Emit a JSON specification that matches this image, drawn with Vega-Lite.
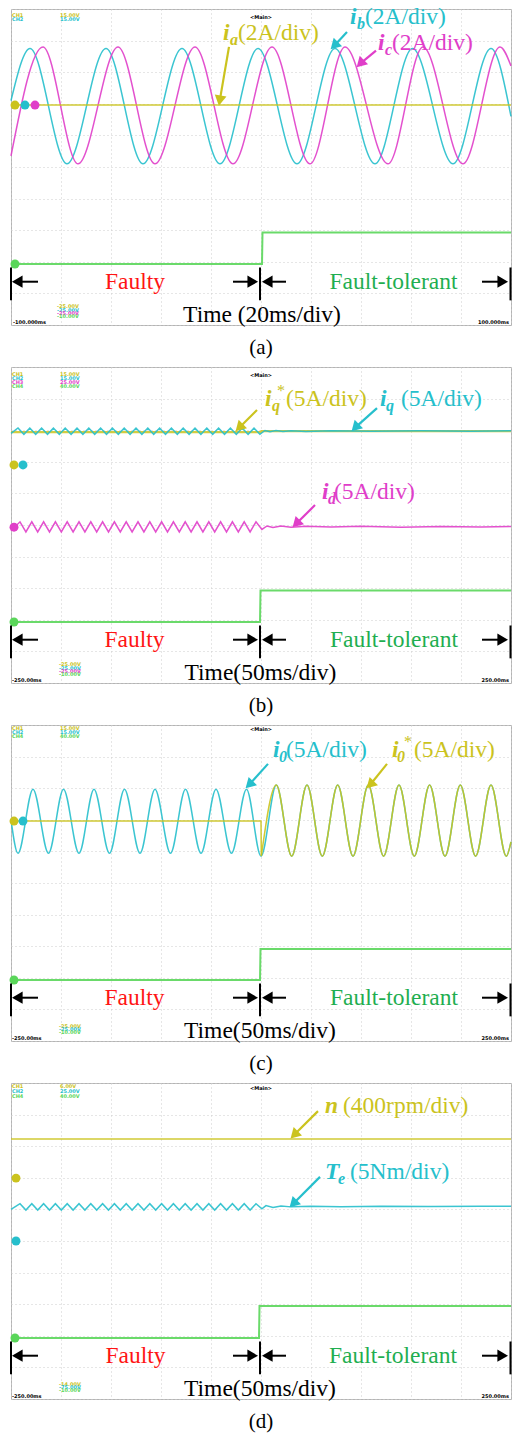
{
"$schema":"https://vega.github.io/schema/vega-lite/v6.json",
"padding":{"left":6,"top":4,"right":1,"bottom":0},
"background":"white",
"bounds":"flush",
"spacing":42,
"data":{"values":[
{"p":"a","k":"w","s":"ib","c":"cy","t":-100,"v":7.1},{"p":"a","k":"w","s":"ib","c":"cy","t":-92.4,"v":8.75},{"p":"a","k":"w","s":"ib","c":"cy","t":-77.6,"v":5.1},{"p":"a","k":"w","s":"ib","c":"cy","t":-62,"v":8.75},{"p":"a","k":"w","s":"ib","c":"cy","t":-47.2,"v":5.1},{"p":"a","k":"w","s":"ib","c":"cy","t":-31.6,"v":8.75},{"p":"a","k":"w","s":"ib","c":"cy","t":-16.4,"v":5.1},{"p":"a","k":"w","s":"ib","c":"cy","t":-1.2,"v":8.75},{"p":"a","k":"w","s":"ib","c":"cy","t":14.4,"v":5.1},{"p":"a","k":"w","s":"ib","c":"cy","t":29.6,"v":8.75},{"p":"a","k":"w","s":"ib","c":"cy","t":45.6,"v":5.1},{"p":"a","k":"w","s":"ib","c":"cy","t":60.6,"v":8.75},{"p":"a","k":"w","s":"ib","c":"cy","t":76.8,"v":5.1},{"p":"a","k":"w","s":"ib","c":"cy","t":92,"v":8.75},{"p":"a","k":"w","s":"ib","c":"cy","t":100,"v":6.6},
{"p":"a","k":"w","s":"ic","c":"m","t":-100,"v":5.35},{"p":"a","k":"w","s":"ic","c":"m","t":-87.2,"v":8.8},{"p":"a","k":"w","s":"ic","c":"m","t":-73.2,"v":5.1},{"p":"a","k":"w","s":"ic","c":"m","t":-57.2,"v":8.8},{"p":"a","k":"w","s":"ic","c":"m","t":-42.4,"v":5.1},{"p":"a","k":"w","s":"ic","c":"m","t":-26.4,"v":8.8},{"p":"a","k":"w","s":"ic","c":"m","t":-11.2,"v":5.1},{"p":"a","k":"w","s":"ic","c":"m","t":4.4,"v":8.8},{"p":"a","k":"w","s":"ic","c":"m","t":19.6,"v":5.1},{"p":"a","k":"w","s":"ic","c":"m","t":33.6,"v":8.8},{"p":"a","k":"w","s":"ic","c":"m","t":50.8,"v":5.1},{"p":"a","k":"w","s":"ic","c":"m","t":64.8,"v":8.8},{"p":"a","k":"w","s":"ic","c":"m","t":80.8,"v":5.1},{"p":"a","k":"w","s":"ic","c":"m","t":95.6,"v":8.8},{"p":"a","k":"w","s":"ic","c":"m","t":100,"v":8.2},
{"p":"a","k":"l","s":"ia","c":"y","t":-100,"v":6.96},{"p":"a","k":"l","s":"ia","c":"y","t":100,"v":6.96},
{"p":"a","k":"g","s":"ch4","c":"g","t":-100,"v":1.93},{"p":"a","k":"g","s":"ch4","c":"g","t":0.4,"v":1.93},{"p":"a","k":"g","s":"ch4","c":"g","t":0.6,"v":2.93},{"p":"a","k":"g","s":"ch4","c":"g","t":100,"v":2.93},
{"p":"a","k":"m","c":"y","t":-98.4,"v":6.96},{"p":"a","k":"m","c":"cy","t":-94.4,"v":6.96},{"p":"a","k":"m","c":"m","t":-90.4,"v":6.96},{"p":"a","k":"m","c":"g","t":-98.4,"v":1.93},
{"p":"a","k":"vb","c":"k","t":-100,"v":0.78,"v2":1.82},{"p":"a","k":"vb","c":"k","t":-0.4,"v":0.78,"v2":1.82},{"p":"a","k":"vb","c":"k","t":99.8,"v":0.78,"v2":1.82},
{"p":"a","k":"bs","c":"k","t":-97.5,"t2":-89.2,"v":1.37},{"p":"a","k":"bs","c":"k","t":-11.2,"t2":-3.3,"v":1.37},{"p":"a","k":"bs","c":"k","t":2.5,"t2":10,"v":1.37},{"p":"a","k":"bs","c":"k","t":88.4,"t2":96.7,"v":1.37},
{"p":"a","k":"bl","c":"k","t":-97.5,"v":1.37},{"p":"a","k":"bl","c":"k","t":2.5,"v":1.37},{"p":"a","k":"br","c":"k","t":-3.3,"v":1.37},{"p":"a","k":"br","c":"k","t":96.7,"v":1.37},
{"p":"a","k":"a","c":"y","t":-12.8,"v":8.8,"t2":-16.5,"v2":7.1},{"p":"a","k":"a","c":"cy","t":34.4,"v":9.27,"t2":29.3,"v2":8.84},{"p":"a","k":"a","c":"m","t":46,"v":8.68,"t2":39.7,"v2":8.27},
{"p":"a","k":"h2","c":"y","t":-16.5,"v":7.1},{"p":"a","k":"h","c":"cy","t":29.3,"v":8.84},{"p":"a","k":"h","c":"m","t":39.7,"v":8.27},
{"p":"a","k":"tv","c":"y","t":-15.2,"v":9.02,"x":"i"},{"p":"a","k":"tv","c":"cy","t":35.6,"v":9.52,"x":"i"},{"p":"a","k":"tv","c":"m","t":46.8,"v":8.7,"x":"i"},
{"p":"a","k":"ts","c":"y","t":-12.4,"v":9.02,"x":"a"},{"p":"a","k":"ts","c":"cy","t":38.4,"v":9.52,"x":"b"},{"p":"a","k":"ts","c":"m","t":49.6,"v":8.7,"x":"c"},
{"p":"a","k":"tu","c":"y","t":-9.2,"v":9.02,"x":"(2A/div)"},{"p":"a","k":"tu","c":"cy","t":41.6,"v":9.52,"x":"(2A/div)"},{"p":"a","k":"tu","c":"m","t":52.4,"v":8.7,"x":"(2A/div)"},
{"p":"a","k":"tf","c":"r","t":-50.4,"v":1.13,"x":"Faulty"},{"p":"a","k":"tf","c":"gt","t":53,"v":1.13,"x":"Fault-tolerant"},
{"p":"a","k":"tt","c":"k","t":0.4,"v":0.1,"x":"Time (20ms/div)"},
{"p":"a","k":"cap","c":"k","t":0,"v":-0.74,"x":"(a)"},
{"p":"a","k":"tiny","c":"y","t":-99.6,"v":9.81,"x":"CH1"},{"p":"a","k":"tiny","c":"y","t":-80.4,"v":9.81,"x":"15.00V"},{"p":"a","k":"tiny","c":"cy","t":-99.6,"v":9.67,"x":"CH2"},{"p":"a","k":"tiny","c":"cy","t":-80.4,"v":9.67,"x":"15.00V"},
{"p":"a","k":"tiny","c":"y","t":-81.6,"v":0.6,"x":"-25.00V"},{"p":"a","k":"tiny","c":"cy","t":-81.6,"v":0.49,"x":"-25.00V"},{"p":"a","k":"tiny","c":"m","t":-81.6,"v":0.38,"x":"-25.00V"},{"p":"a","k":"tiny","c":"g","t":-81.6,"v":0.27,"x":"-10.00V"},
{"p":"a","k":"tiny","c":"k","t":-99.2,"v":0.08,"x":"-100.000ms"},{"p":"a","k":"tinyr","c":"k","t":99.2,"v":0.08,"x":"100.000ms"},{"p":"a","k":"tinyc","c":"k","t":0,"v":9.75,"x":"<Main>"},

{"p":"b","k":"l0","s":"iqr","c":"y","t":-250,"v":7.94},{"p":"b","k":"l0","s":"iqr","c":"y","t":0,"v":7.94},{"p":"b","k":"l0","s":"iqr","c":"y","t":0.5,"v":7.97},{"p":"b","k":"l0","s":"iqr","c":"y","t":250,"v":7.97},
{"p":"b","k":"l","s":"iq","c":"cy","t":-250,"v":7.9},{"p":"b","k":"l","s":"iq","c":"cy","t":-243,"v":8.07},{"p":"b","k":"l","s":"iq","c":"cy","t":-237.1,"v":7.87},{"p":"b","k":"l","s":"iq","c":"cy","t":-231.2,"v":8.07},{"p":"b","k":"l","s":"iq","c":"cy","t":-225.3,"v":7.87},{"p":"b","k":"l","s":"iq","c":"cy","t":-219.4,"v":8.07},{"p":"b","k":"l","s":"iq","c":"cy","t":-213.5,"v":7.87},{"p":"b","k":"l","s":"iq","c":"cy","t":-207.6,"v":8.07},{"p":"b","k":"l","s":"iq","c":"cy","t":-201.7,"v":7.87},{"p":"b","k":"l","s":"iq","c":"cy","t":-195.8,"v":8.07},{"p":"b","k":"l","s":"iq","c":"cy","t":-189.9,"v":7.87},{"p":"b","k":"l","s":"iq","c":"cy","t":-184,"v":8.07},{"p":"b","k":"l","s":"iq","c":"cy","t":-178.1,"v":7.87},{"p":"b","k":"l","s":"iq","c":"cy","t":-172.2,"v":8.07},{"p":"b","k":"l","s":"iq","c":"cy","t":-166.3,"v":7.87},{"p":"b","k":"l","s":"iq","c":"cy","t":-160.4,"v":8.07},{"p":"b","k":"l","s":"iq","c":"cy","t":-154.5,"v":7.87},{"p":"b","k":"l","s":"iq","c":"cy","t":-148.6,"v":8.07},{"p":"b","k":"l","s":"iq","c":"cy","t":-142.7,"v":7.87},{"p":"b","k":"l","s":"iq","c":"cy","t":-136.8,"v":8.07},{"p":"b","k":"l","s":"iq","c":"cy","t":-130.9,"v":7.87},{"p":"b","k":"l","s":"iq","c":"cy","t":-125,"v":8.07},{"p":"b","k":"l","s":"iq","c":"cy","t":-119.1,"v":7.87},{"p":"b","k":"l","s":"iq","c":"cy","t":-113.2,"v":8.07},{"p":"b","k":"l","s":"iq","c":"cy","t":-107.3,"v":7.87},{"p":"b","k":"l","s":"iq","c":"cy","t":-101.4,"v":8.07},{"p":"b","k":"l","s":"iq","c":"cy","t":-95.5,"v":7.87},{"p":"b","k":"l","s":"iq","c":"cy","t":-89.6,"v":8.07},{"p":"b","k":"l","s":"iq","c":"cy","t":-83.7,"v":7.87},{"p":"b","k":"l","s":"iq","c":"cy","t":-77.8,"v":8.07},{"p":"b","k":"l","s":"iq","c":"cy","t":-71.9,"v":7.87},{"p":"b","k":"l","s":"iq","c":"cy","t":-66,"v":8.07},{"p":"b","k":"l","s":"iq","c":"cy","t":-60.1,"v":7.87},{"p":"b","k":"l","s":"iq","c":"cy","t":-54.2,"v":8.07},{"p":"b","k":"l","s":"iq","c":"cy","t":-48.3,"v":7.87},{"p":"b","k":"l","s":"iq","c":"cy","t":-42.4,"v":8.07},{"p":"b","k":"l","s":"iq","c":"cy","t":-36.5,"v":7.87},{"p":"b","k":"l","s":"iq","c":"cy","t":-30.6,"v":8.07},{"p":"b","k":"l","s":"iq","c":"cy","t":-24.7,"v":7.87},{"p":"b","k":"l","s":"iq","c":"cy","t":-18.8,"v":8.07},{"p":"b","k":"l","s":"iq","c":"cy","t":-12.9,"v":7.87},{"p":"b","k":"l","s":"iq","c":"cy","t":-7,"v":8.07},{"p":"b","k":"l","s":"iq","c":"cy","t":-1.1,"v":7.87},{"p":"b","k":"l","s":"iq","c":"cy","t":4,"v":7.99},{"p":"b","k":"l","s":"iq","c":"cy","t":9,"v":7.95},{"p":"b","k":"l","s":"iq","c":"cy","t":15,"v":7.99},{"p":"b","k":"l","s":"iq","c":"cy","t":22,"v":7.96},{"p":"b","k":"l","s":"iq","c":"cy","t":30,"v":7.98},{"p":"b","k":"l","s":"iq","c":"cy","t":45,"v":7.96},{"p":"b","k":"l","s":"iq","c":"cy","t":70,"v":7.98},{"p":"b","k":"l","s":"iq","c":"cy","t":110,"v":7.97},{"p":"b","k":"l","s":"iq","c":"cy","t":160,"v":7.98},{"p":"b","k":"l","s":"iq","c":"cy","t":210,"v":7.97},{"p":"b","k":"l","s":"iq","c":"cy","t":250,"v":7.98},
{"p":"b","k":"l","s":"id","c":"m","t":-250,"v":4.82},{"p":"b","k":"l","s":"id","c":"m","t":-241,"v":5.1},{"p":"b","k":"l","s":"id","c":"m","t":-235.1,"v":4.78},{"p":"b","k":"l","s":"id","c":"m","t":-229.2,"v":5.1},{"p":"b","k":"l","s":"id","c":"m","t":-223.3,"v":4.78},{"p":"b","k":"l","s":"id","c":"m","t":-217.4,"v":5.1},{"p":"b","k":"l","s":"id","c":"m","t":-211.5,"v":4.78},{"p":"b","k":"l","s":"id","c":"m","t":-205.6,"v":5.1},{"p":"b","k":"l","s":"id","c":"m","t":-199.7,"v":4.78},{"p":"b","k":"l","s":"id","c":"m","t":-193.8,"v":5.1},{"p":"b","k":"l","s":"id","c":"m","t":-187.9,"v":4.78},{"p":"b","k":"l","s":"id","c":"m","t":-182,"v":5.1},{"p":"b","k":"l","s":"id","c":"m","t":-176.1,"v":4.78},{"p":"b","k":"l","s":"id","c":"m","t":-170.2,"v":5.1},{"p":"b","k":"l","s":"id","c":"m","t":-164.3,"v":4.78},{"p":"b","k":"l","s":"id","c":"m","t":-158.4,"v":5.1},{"p":"b","k":"l","s":"id","c":"m","t":-152.5,"v":4.78},{"p":"b","k":"l","s":"id","c":"m","t":-146.6,"v":5.1},{"p":"b","k":"l","s":"id","c":"m","t":-140.7,"v":4.78},{"p":"b","k":"l","s":"id","c":"m","t":-134.8,"v":5.1},{"p":"b","k":"l","s":"id","c":"m","t":-128.9,"v":4.78},{"p":"b","k":"l","s":"id","c":"m","t":-123,"v":5.1},{"p":"b","k":"l","s":"id","c":"m","t":-117.1,"v":4.78},{"p":"b","k":"l","s":"id","c":"m","t":-111.2,"v":5.1},{"p":"b","k":"l","s":"id","c":"m","t":-105.3,"v":4.78},{"p":"b","k":"l","s":"id","c":"m","t":-99.4,"v":5.1},{"p":"b","k":"l","s":"id","c":"m","t":-93.5,"v":4.78},{"p":"b","k":"l","s":"id","c":"m","t":-87.6,"v":5.1},{"p":"b","k":"l","s":"id","c":"m","t":-81.7,"v":4.78},{"p":"b","k":"l","s":"id","c":"m","t":-75.8,"v":5.1},{"p":"b","k":"l","s":"id","c":"m","t":-69.9,"v":4.78},{"p":"b","k":"l","s":"id","c":"m","t":-64,"v":5.1},{"p":"b","k":"l","s":"id","c":"m","t":-58.1,"v":4.78},{"p":"b","k":"l","s":"id","c":"m","t":-52.2,"v":5.1},{"p":"b","k":"l","s":"id","c":"m","t":-46.3,"v":4.78},{"p":"b","k":"l","s":"id","c":"m","t":-40.4,"v":5.1},{"p":"b","k":"l","s":"id","c":"m","t":-34.5,"v":4.78},{"p":"b","k":"l","s":"id","c":"m","t":-28.6,"v":5.1},{"p":"b","k":"l","s":"id","c":"m","t":-22.7,"v":4.78},{"p":"b","k":"l","s":"id","c":"m","t":-16.8,"v":5.1},{"p":"b","k":"l","s":"id","c":"m","t":-10.9,"v":4.78},{"p":"b","k":"l","s":"id","c":"m","t":-5,"v":5.1},{"p":"b","k":"l","s":"id","c":"m","t":0.9,"v":4.86},{"p":"b","k":"l","s":"id","c":"m","t":6,"v":4.97},{"p":"b","k":"l","s":"id","c":"m","t":12,"v":4.92},{"p":"b","k":"l","s":"id","c":"m","t":20,"v":4.97},{"p":"b","k":"l","s":"id","c":"m","t":30,"v":4.93},{"p":"b","k":"l","s":"id","c":"m","t":45,"v":4.96},{"p":"b","k":"l","s":"id","c":"m","t":70,"v":4.94},{"p":"b","k":"l","s":"id","c":"m","t":100,"v":4.96},{"p":"b","k":"l","s":"id","c":"m","t":140,"v":4.93},{"p":"b","k":"l","s":"id","c":"m","t":180,"v":4.95},{"p":"b","k":"l","s":"id","c":"m","t":220,"v":4.94},{"p":"b","k":"l","s":"id","c":"m","t":250,"v":4.95},
{"p":"b","k":"g","s":"ch4","c":"g","t":-250,"v":1.93},{"p":"b","k":"g","s":"ch4","c":"g","t":-1,"v":1.93},{"p":"b","k":"g","s":"ch4","c":"g","t":-0.5,"v":2.93},{"p":"b","k":"g","s":"ch4","c":"g","t":250,"v":2.93},
{"p":"b","k":"m","c":"y","t":-247,"v":6.9},{"p":"b","k":"m","c":"cy","t":-238,"v":6.9},{"p":"b","k":"m","c":"m","t":-247,"v":4.93},{"p":"b","k":"m","c":"g","t":-247,"v":1.93},
{"p":"b","k":"vb","c":"k","t":-250,"v":0.78,"v2":1.82},{"p":"b","k":"vb","c":"k","t":-1,"v":0.78,"v2":1.82},{"p":"b","k":"vb","c":"k","t":249.5,"v":0.78,"v2":1.82},
{"p":"b","k":"bs","c":"k","t":-243.7,"t2":-223,"v":1.37},{"p":"b","k":"bs","c":"k","t":-28,"t2":-8.3,"v":1.37},{"p":"b","k":"bs","c":"k","t":6.3,"t2":25,"v":1.37},{"p":"b","k":"bs","c":"k","t":221,"t2":241.7,"v":1.37},
{"p":"b","k":"bl","c":"k","t":-243.7,"v":1.37},{"p":"b","k":"bl","c":"k","t":6.3,"v":1.37},{"p":"b","k":"br","c":"k","t":-8.3,"v":1.37},{"p":"b","k":"br","c":"k","t":241.7,"v":1.37},
{"p":"b","k":"a","c":"y","t":-4,"v":8.64,"t2":-21.8,"v2":8.08},{"p":"b","k":"a","c":"cy","t":116,"v":8.7,"t2":94.2,"v2":8.08},{"p":"b","k":"a","c":"m","t":54,"v":5.63,"t2":35.2,"v2":5.04},
{"p":"b","k":"h","c":"y","t":-21.8,"v":8.08},{"p":"b","k":"h","c":"cy","t":94.2,"v":8.08},{"p":"b","k":"h","c":"m","t":35.2,"v":5.04},
{"p":"b","k":"tv","c":"y","t":4,"v":8.77,"x":"i"},{"p":"b","k":"tv","c":"cy","t":119,"v":8.77,"x":"i"},{"p":"b","k":"tv","c":"m","t":61,"v":5.82,"x":"i"},
{"p":"b","k":"ts","c":"y","t":11,"v":8.77,"x":"q"},{"p":"b","k":"ts","c":"cy","t":125,"v":8.77,"x":"q"},{"p":"b","k":"ts","c":"m","t":67,"v":5.82,"x":"d"},
{"p":"b","k":"tp","c":"y","t":16,"v":8.77,"x":"*"},
{"p":"b","k":"tu","c":"y","t":25,"v":8.77,"x":"(5A/div)"},{"p":"b","k":"tu","c":"cy","t":140,"v":8.77,"x":"(5A/div)"},{"p":"b","k":"tu","c":"m","t":73,"v":5.82,"x":"(5A/div)"},
{"p":"b","k":"tf","c":"r","t":-126.5,"v":1.13,"x":"Faulty"},{"p":"b","k":"tf","c":"gt","t":133,"v":1.13,"x":"Fault-tolerant"},
{"p":"b","k":"tt","c":"k","t":-0.5,"v":0.1,"x":"Time(50ms/div)"},
{"p":"b","k":"cap","c":"k","t":0,"v":-0.74,"x":"(b)"},
{"p":"b","k":"tiny","c":"y","t":-249,"v":9.78,"x":"CH1"},{"p":"b","k":"tiny","c":"y","t":-201,"v":9.78,"x":"15.00V"},{"p":"b","k":"tiny","c":"cy","t":-249,"v":9.65,"x":"CH2"},{"p":"b","k":"tiny","c":"cy","t":-201,"v":9.65,"x":"15.00V"},{"p":"b","k":"tiny","c":"m","t":-249,"v":9.53,"x":"CH3"},{"p":"b","k":"tiny","c":"m","t":-201,"v":9.53,"x":"25.00V"},{"p":"b","k":"tiny","c":"g","t":-249,"v":9.4,"x":"CH4"},{"p":"b","k":"tiny","c":"g","t":-201,"v":9.4,"x":"40.00V"},
{"p":"b","k":"tiny","c":"y","t":-202,"v":0.6,"x":"-25.00V"},{"p":"b","k":"tiny","c":"cy","t":-202,"v":0.49,"x":"-25.00V"},{"p":"b","k":"tiny","c":"m","t":-202,"v":0.38,"x":"-25.00V"},{"p":"b","k":"tiny","c":"g","t":-202,"v":0.27,"x":"-10.00V"},
{"p":"b","k":"tiny","c":"k","t":-249,"v":0.08,"x":"-250.00ms"},{"p":"b","k":"tinyr","c":"k","t":248,"v":0.08,"x":"250.00ms"},{"p":"b","k":"tinyc","c":"k","t":0,"v":9.75,"x":"<Main>"},

{"p":"c","k":"w","s":"i0","c":"cy","t":-250,"v":7.0},{"p":"c","k":"w","s":"i0","c":"cy","t":-243,"v":5.94},{"p":"c","k":"w","s":"i0","c":"cy","t":-228,"v":7.97},{"p":"c","k":"w","s":"i0","c":"cy","t":-212.5,"v":5.94},{"p":"c","k":"w","s":"i0","c":"cy","t":-197.5,"v":7.97},{"p":"c","k":"w","s":"i0","c":"cy","t":-182,"v":5.94},{"p":"c","k":"w","s":"i0","c":"cy","t":-167,"v":7.97},{"p":"c","k":"w","s":"i0","c":"cy","t":-151.5,"v":5.94},{"p":"c","k":"w","s":"i0","c":"cy","t":-136.5,"v":7.97},{"p":"c","k":"w","s":"i0","c":"cy","t":-121,"v":5.94},{"p":"c","k":"w","s":"i0","c":"cy","t":-106,"v":7.97},{"p":"c","k":"w","s":"i0","c":"cy","t":-90.5,"v":5.94},{"p":"c","k":"w","s":"i0","c":"cy","t":-75.5,"v":7.97},{"p":"c","k":"w","s":"i0","c":"cy","t":-60,"v":5.94},{"p":"c","k":"w","s":"i0","c":"cy","t":-45,"v":7.97},{"p":"c","k":"w","s":"i0","c":"cy","t":-29.5,"v":5.94},{"p":"c","k":"w","s":"i0","c":"cy","t":-14.5,"v":7.97},{"p":"c","k":"w","s":"i0","c":"cy","t":0,"v":5.85},{"p":"c","k":"w","s":"i0","c":"cy","t":15.3,"v":8.1},{"p":"c","k":"w","s":"i0","c":"cy","t":30.7,"v":5.85},{"p":"c","k":"w","s":"i0","c":"cy","t":46,"v":8.1},{"p":"c","k":"w","s":"i0","c":"cy","t":61.3,"v":5.85},{"p":"c","k":"w","s":"i0","c":"cy","t":76.7,"v":8.1},{"p":"c","k":"w","s":"i0","c":"cy","t":92,"v":5.85},{"p":"c","k":"w","s":"i0","c":"cy","t":107.3,"v":8.1},{"p":"c","k":"w","s":"i0","c":"cy","t":122.6,"v":5.85},{"p":"c","k":"w","s":"i0","c":"cy","t":138,"v":8.1},{"p":"c","k":"w","s":"i0","c":"cy","t":153.3,"v":5.85},{"p":"c","k":"w","s":"i0","c":"cy","t":168.6,"v":8.1},{"p":"c","k":"w","s":"i0","c":"cy","t":184,"v":5.85},{"p":"c","k":"w","s":"i0","c":"cy","t":199.3,"v":8.1},{"p":"c","k":"w","s":"i0","c":"cy","t":214.6,"v":5.85},{"p":"c","k":"w","s":"i0","c":"cy","t":230,"v":8.1},{"p":"c","k":"w","s":"i0","c":"cy","t":245.3,"v":5.85},{"p":"c","k":"w","s":"i0","c":"cy","t":250,"v":6.3},
{"p":"c","k":"w2","s":"i0r","c":"y","t":0.3,"v":5.85},{"p":"c","k":"w2","s":"i0r","c":"y","t":15.3,"v":8.1},{"p":"c","k":"w2","s":"i0r","c":"y","t":30.7,"v":5.85},{"p":"c","k":"w2","s":"i0r","c":"y","t":46,"v":8.1},{"p":"c","k":"w2","s":"i0r","c":"y","t":61.3,"v":5.85},{"p":"c","k":"w2","s":"i0r","c":"y","t":76.7,"v":8.1},{"p":"c","k":"w2","s":"i0r","c":"y","t":92,"v":5.85},{"p":"c","k":"w2","s":"i0r","c":"y","t":107.3,"v":8.1},{"p":"c","k":"w2","s":"i0r","c":"y","t":122.6,"v":5.85},{"p":"c","k":"w2","s":"i0r","c":"y","t":138,"v":8.1},{"p":"c","k":"w2","s":"i0r","c":"y","t":153.3,"v":5.85},{"p":"c","k":"w2","s":"i0r","c":"y","t":168.6,"v":8.1},{"p":"c","k":"w2","s":"i0r","c":"y","t":184,"v":5.85},{"p":"c","k":"w2","s":"i0r","c":"y","t":199.3,"v":8.1},{"p":"c","k":"w2","s":"i0r","c":"y","t":214.6,"v":5.85},{"p":"c","k":"w2","s":"i0r","c":"y","t":230,"v":8.1},{"p":"c","k":"w2","s":"i0r","c":"y","t":245.3,"v":5.85},{"p":"c","k":"w2","s":"i0r","c":"y","t":250,"v":6.3},
{"p":"c","k":"l","s":"i0f","c":"y","t":-250,"v":6.96},{"p":"c","k":"l","s":"i0f","c":"y","t":0,"v":6.96},{"p":"c","k":"l","s":"i0f","c":"y","t":0.3,"v":5.87},
{"p":"c","k":"g","s":"ch4","c":"g","t":-250,"v":1.93},{"p":"c","k":"g","s":"ch4","c":"g","t":-1,"v":1.93},{"p":"c","k":"g","s":"ch4","c":"g","t":-0.5,"v":2.91},{"p":"c","k":"g","s":"ch4","c":"g","t":250,"v":2.91},
{"p":"c","k":"m","c":"y","t":-247,"v":6.96},{"p":"c","k":"m","c":"cy","t":-238,"v":6.96},{"p":"c","k":"m","c":"g","t":-247,"v":1.93},
{"p":"c","k":"vb","c":"k","t":-250,"v":0.78,"v2":1.82},{"p":"c","k":"vb","c":"k","t":-1,"v":0.78,"v2":1.82},{"p":"c","k":"vb","c":"k","t":249.5,"v":0.78,"v2":1.82},
{"p":"c","k":"bs","c":"k","t":-243.7,"t2":-223,"v":1.37},{"p":"c","k":"bs","c":"k","t":-28,"t2":-8.3,"v":1.37},{"p":"c","k":"bs","c":"k","t":6.3,"t2":25,"v":1.37},{"p":"c","k":"bs","c":"k","t":221,"t2":241.7,"v":1.37},
{"p":"c","k":"bl","c":"k","t":-243.7,"v":1.37},{"p":"c","k":"bl","c":"k","t":6.3,"v":1.37},{"p":"c","k":"br","c":"k","t":-8.3,"v":1.37},{"p":"c","k":"br","c":"k","t":241.7,"v":1.37},
{"p":"c","k":"a","c":"cy","t":7,"v":8.77,"t2":-11.8,"v2":8.11},{"p":"c","k":"a","c":"y","t":126,"v":8.77,"t2":109.2,"v2":8.11},
{"p":"c","k":"h","c":"cy","t":-11.8,"v":8.11},{"p":"c","k":"h","c":"y","t":109.2,"v":8.11},
{"p":"c","k":"tv","c":"cy","t":12,"v":8.99,"x":"i"},{"p":"c","k":"tv","c":"y","t":131,"v":8.99,"x":"i"},
{"p":"c","k":"ts","c":"cy","t":18,"v":8.99,"x":"0"},{"p":"c","k":"ts","c":"y","t":136,"v":8.99,"x":"0"},
{"p":"c","k":"tp","c":"y","t":143,"v":8.99,"x":"*"},
{"p":"c","k":"tu","c":"cy","t":25,"v":8.99,"x":"(5A/div)"},{"p":"c","k":"tu","c":"y","t":153,"v":8.99,"x":"(5A/div)"},
{"p":"c","k":"tf","c":"r","t":-126.5,"v":1.13,"x":"Faulty"},{"p":"c","k":"tf","c":"gt","t":133,"v":1.13,"x":"Fault-tolerant"},
{"p":"c","k":"tt","c":"k","t":-1,"v":0.1,"x":"Time(50ms/div)"},
{"p":"c","k":"cap","c":"k","t":0,"v":-0.74,"x":"(c)"},
{"p":"c","k":"tiny","c":"y","t":-249,"v":9.9,"x":"CH1"},{"p":"c","k":"tiny","c":"y","t":-201,"v":9.9,"x":"15.00V"},{"p":"c","k":"tiny","c":"cy","t":-249,"v":9.77,"x":"CH2"},{"p":"c","k":"tiny","c":"cy","t":-201,"v":9.77,"x":"15.00V"},{"p":"c","k":"tiny","c":"g","t":-249,"v":9.64,"x":"CH4"},{"p":"c","k":"tiny","c":"g","t":-201,"v":9.64,"x":"40.00V"},
{"p":"c","k":"tiny","c":"y","t":-202,"v":0.49,"x":"-25.00V"},{"p":"c","k":"tiny","c":"cy","t":-202,"v":0.38,"x":"-25.00V"},{"p":"c","k":"tiny","c":"g","t":-202,"v":0.27,"x":"-10.00V"},
{"p":"c","k":"tiny","c":"k","t":-249,"v":0.08,"x":"-250.00ms"},{"p":"c","k":"tinyr","c":"k","t":248,"v":0.08,"x":"250.00ms"},{"p":"c","k":"tinyc","c":"k","t":0,"v":9.87,"x":"<Main>"},

{"p":"d","k":"l","s":"n","c":"y","t":-250,"v":8.23},{"p":"d","k":"l","s":"n","c":"y","t":250,"v":8.23},
{"p":"d","k":"l","s":"Te","c":"cy","t":-250,"v":6.0},{"p":"d","k":"l","s":"Te","c":"cy","t":-241,"v":6.18},{"p":"d","k":"l","s":"Te","c":"cy","t":-235.1,"v":5.98},{"p":"d","k":"l","s":"Te","c":"cy","t":-229.2,"v":6.18},{"p":"d","k":"l","s":"Te","c":"cy","t":-223.3,"v":5.98},{"p":"d","k":"l","s":"Te","c":"cy","t":-217.4,"v":6.18},{"p":"d","k":"l","s":"Te","c":"cy","t":-211.5,"v":5.98},{"p":"d","k":"l","s":"Te","c":"cy","t":-205.6,"v":6.18},{"p":"d","k":"l","s":"Te","c":"cy","t":-199.7,"v":5.98},{"p":"d","k":"l","s":"Te","c":"cy","t":-193.8,"v":6.18},{"p":"d","k":"l","s":"Te","c":"cy","t":-187.9,"v":5.98},{"p":"d","k":"l","s":"Te","c":"cy","t":-182,"v":6.18},{"p":"d","k":"l","s":"Te","c":"cy","t":-176.1,"v":5.98},{"p":"d","k":"l","s":"Te","c":"cy","t":-170.2,"v":6.18},{"p":"d","k":"l","s":"Te","c":"cy","t":-164.3,"v":5.98},{"p":"d","k":"l","s":"Te","c":"cy","t":-158.4,"v":6.18},{"p":"d","k":"l","s":"Te","c":"cy","t":-152.5,"v":5.98},{"p":"d","k":"l","s":"Te","c":"cy","t":-146.6,"v":6.18},{"p":"d","k":"l","s":"Te","c":"cy","t":-140.7,"v":5.98},{"p":"d","k":"l","s":"Te","c":"cy","t":-134.8,"v":6.18},{"p":"d","k":"l","s":"Te","c":"cy","t":-128.9,"v":5.98},{"p":"d","k":"l","s":"Te","c":"cy","t":-123,"v":6.18},{"p":"d","k":"l","s":"Te","c":"cy","t":-117.1,"v":5.98},{"p":"d","k":"l","s":"Te","c":"cy","t":-111.2,"v":6.18},{"p":"d","k":"l","s":"Te","c":"cy","t":-105.3,"v":5.98},{"p":"d","k":"l","s":"Te","c":"cy","t":-99.4,"v":6.18},{"p":"d","k":"l","s":"Te","c":"cy","t":-93.5,"v":5.98},{"p":"d","k":"l","s":"Te","c":"cy","t":-87.6,"v":6.18},{"p":"d","k":"l","s":"Te","c":"cy","t":-81.7,"v":5.98},{"p":"d","k":"l","s":"Te","c":"cy","t":-75.8,"v":6.18},{"p":"d","k":"l","s":"Te","c":"cy","t":-69.9,"v":5.98},{"p":"d","k":"l","s":"Te","c":"cy","t":-64,"v":6.18},{"p":"d","k":"l","s":"Te","c":"cy","t":-58.1,"v":5.98},{"p":"d","k":"l","s":"Te","c":"cy","t":-52.2,"v":6.18},{"p":"d","k":"l","s":"Te","c":"cy","t":-46.3,"v":5.98},{"p":"d","k":"l","s":"Te","c":"cy","t":-40.4,"v":6.18},{"p":"d","k":"l","s":"Te","c":"cy","t":-34.5,"v":5.98},{"p":"d","k":"l","s":"Te","c":"cy","t":-28.6,"v":6.18},{"p":"d","k":"l","s":"Te","c":"cy","t":-22.7,"v":5.98},{"p":"d","k":"l","s":"Te","c":"cy","t":-16.8,"v":6.18},{"p":"d","k":"l","s":"Te","c":"cy","t":-10.9,"v":5.98},{"p":"d","k":"l","s":"Te","c":"cy","t":-5,"v":6.18},{"p":"d","k":"l","s":"Te","c":"cy","t":0.9,"v":6.02},{"p":"d","k":"l","s":"Te","c":"cy","t":5,"v":6.12},{"p":"d","k":"l","s":"Te","c":"cy","t":12,"v":6.06},{"p":"d","k":"l","s":"Te","c":"cy","t":20,"v":6.11},{"p":"d","k":"l","s":"Te","c":"cy","t":30,"v":6.08},{"p":"d","k":"l","s":"Te","c":"cy","t":50,"v":6.1},{"p":"d","k":"l","s":"Te","c":"cy","t":80,"v":6.08},{"p":"d","k":"l","s":"Te","c":"cy","t":120,"v":6.1},{"p":"d","k":"l","s":"Te","c":"cy","t":170,"v":6.09},{"p":"d","k":"l","s":"Te","c":"cy","t":220,"v":6.1},{"p":"d","k":"l","s":"Te","c":"cy","t":250,"v":6.1},
{"p":"d","k":"g","s":"ch4","c":"g","t":-250,"v":1.93},{"p":"d","k":"g","s":"ch4","c":"g","t":-2,"v":1.93},{"p":"d","k":"g","s":"ch4","c":"g","t":-1.5,"v":2.94},{"p":"d","k":"g","s":"ch4","c":"g","t":250,"v":2.94},
{"p":"d","k":"m","c":"y","t":-245,"v":6.99},{"p":"d","k":"m","c":"cy","t":-245,"v":5.0},{"p":"d","k":"m","c":"g","t":-246,"v":1.93},
{"p":"d","k":"vb","c":"k","t":-250,"v":0.78,"v2":1.82},{"p":"d","k":"vb","c":"k","t":-1,"v":0.78,"v2":1.82},{"p":"d","k":"vb","c":"k","t":249.5,"v":0.78,"v2":1.82},
{"p":"d","k":"bs","c":"k","t":-243.7,"t2":-223,"v":1.37},{"p":"d","k":"bs","c":"k","t":-28,"t2":-8.3,"v":1.37},{"p":"d","k":"bs","c":"k","t":6.3,"t2":25,"v":1.37},{"p":"d","k":"bs","c":"k","t":221,"t2":241.7,"v":1.37},
{"p":"d","k":"bl","c":"k","t":-243.7,"v":1.37},{"p":"d","k":"bl","c":"k","t":6.3,"v":1.37},{"p":"d","k":"br","c":"k","t":-8.3,"v":1.37},{"p":"d","k":"br","c":"k","t":241.7,"v":1.37},
{"p":"d","k":"a","c":"y","t":57,"v":9.11,"t2":33.2,"v2":8.36},{"p":"d","k":"a","c":"cy","t":59,"v":7.03,"t2":32.2,"v2":6.18},
{"p":"d","k":"h","c":"y","t":33.2,"v":8.36},{"p":"d","k":"h","c":"cy","t":32.2,"v":6.18},
{"p":"d","k":"tv","c":"y","t":64,"v":9.05,"x":"n"},{"p":"d","k":"tv","c":"cy","t":64,"v":6.96,"x":"T"},
{"p":"d","k":"ts","c":"cy","t":77,"v":6.96,"x":"e"},
{"p":"d","k":"tu","c":"y","t":82,"v":9.05,"x":"(400rpm/div)"},{"p":"d","k":"tu","c":"cy","t":89,"v":6.96,"x":"(5Nm/div)"},
{"p":"d","k":"tf","c":"r","t":-125.5,"v":1.13,"x":"Faulty"},{"p":"d","k":"tf","c":"gt","t":132,"v":1.13,"x":"Fault-tolerant"},
{"p":"d","k":"tt","c":"k","t":-1,"v":0.1,"x":"Time(50ms/div)"},
{"p":"d","k":"cap","c":"k","t":0,"v":-0.74,"x":"(d)"},
{"p":"d","k":"tiny","c":"y","t":-249,"v":9.9,"x":"CH1"},{"p":"d","k":"tiny","c":"y","t":-201,"v":9.9,"x":"6.00V"},{"p":"d","k":"tiny","c":"cy","t":-249,"v":9.75,"x":"CH2"},{"p":"d","k":"tiny","c":"cy","t":-201,"v":9.75,"x":"25.00V"},{"p":"d","k":"tiny","c":"g","t":-249,"v":9.6,"x":"CH4"},{"p":"d","k":"tiny","c":"g","t":-201,"v":9.6,"x":"40.00V"},
{"p":"d","k":"tiny","c":"y","t":-202,"v":0.49,"x":"-14.00V"},{"p":"d","k":"tiny","c":"cy","t":-202,"v":0.38,"x":"-75.00V"},{"p":"d","k":"tiny","c":"g","t":-202,"v":0.27,"x":"-10.00V"},
{"p":"d","k":"tiny","c":"k","t":-249,"v":0.08,"x":"-250.00ms"},{"p":"d","k":"tinyr","c":"k","t":248,"v":0.08,"x":"250.00ms"},{"p":"d","k":"tinyc","c":"k","t":0,"v":9.84,"x":"<Main>"}
]},
"facet":{"row":{"field":"p","type":"nominal","header":null}},
"resolve":{"scale":{"x":"independent"}},
"spec":{
"width":500,"height":316,
"encoding":{
"x":{"field":"t","type":"quantitative","title":null,"scale":{"nice":false,"zero":false,"padding":0},"axis":{"grid":true,"tickCount":10,"labels":false,"ticks":false,"domain":false,"title":null,"gridColor":"#cccccc","gridDash":[1,3],"gridWidth":1}},
"y":{"field":"v","type":"quantitative","title":null,"scale":{"domain":[0,10],"nice":false,"zero":false},"axis":{"grid":true,"tickCount":10,"labels":false,"ticks":false,"domain":false,"title":null,"gridColor":"#cccccc","gridDash":[1,3],"gridWidth":1}},
"color":{"field":"c","type":"nominal","legend":null,"scale":{"domain":["y","cy","m","g","r","gt","k"],"range":["#cbc31e","#26bfcc","#e03ec9","#5ad65a","#ff1414","#1fae50","#000000"]}}
},
"layer":[
{"transform":[{"filter":"datum.k==='l0'"}],"mark":{"type":"line","strokeWidth":2.2,"opacity":0.85},"encoding":{"detail":{"field":"s"}}},
{"transform":[{"filter":"datum.k==='w'"}],"mark":{"type":"line","interpolate":"monotone","strokeWidth":1.5,"opacity":0.9},"encoding":{"detail":{"field":"s"}}},
{"transform":[{"filter":"datum.k==='l'"}],"mark":{"type":"line","strokeWidth":1.5,"opacity":0.9},"encoding":{"detail":{"field":"s"}}},
{"transform":[{"filter":"datum.k==='w2'"}],"mark":{"type":"line","interpolate":"monotone","strokeWidth":1.5,"opacity":0.9},"encoding":{"detail":{"field":"s"}}},
{"transform":[{"filter":"datum.k==='g'"}],"mark":{"type":"line","strokeWidth":2,"opacity":0.9},"encoding":{"detail":{"field":"s"}}},
{"transform":[{"filter":"datum.k==='m'"}],"mark":{"type":"point","filled":true,"size":80,"opacity":1}},
{"transform":[{"filter":"datum.k==='vb'"}],"mark":{"type":"rule","strokeWidth":2},"encoding":{"y2":{"field":"v2"}}},
{"transform":[{"filter":"datum.k==='bs'"}],"mark":{"type":"rule","strokeWidth":2},"encoding":{"x2":{"field":"t2"}}},
{"transform":[{"filter":"datum.k==='bl'"}],"mark":{"type":"point","shape":"triangle-left","filled":true,"size":150,"opacity":1}},
{"transform":[{"filter":"datum.k==='br'"}],"mark":{"type":"point","shape":"triangle-right","filled":true,"size":150,"opacity":1}},
{"transform":[{"filter":"datum.k==='a'"}],"mark":{"type":"rule","strokeWidth":2.2},"encoding":{"x2":{"field":"t2"},"y2":{"field":"v2"}}},
{"transform":[{"filter":"datum.k==='h'"}],"mark":{"type":"point","shape":"triangle-up","angle":225,"filled":true,"size":140,"opacity":1}},
{"transform":[{"filter":"datum.k==='h2'"}],"mark":{"type":"point","shape":"triangle-up","angle":190,"filled":true,"size":140,"opacity":1}},
{"transform":[{"filter":"datum.k==='tv'"}],"mark":{"type":"text","font":"Liberation Serif","fontSize":23.5,"fontWeight":"bold","fontStyle":"italic","align":"left","baseline":"alphabetic"},"encoding":{"text":{"field":"x"}}},
{"transform":[{"filter":"datum.k==='ts'"}],"mark":{"type":"text","font":"Liberation Serif","fontSize":16,"fontWeight":"bold","fontStyle":"italic","align":"left","baseline":"alphabetic","dy":5},"encoding":{"text":{"field":"x"}}},
{"transform":[{"filter":"datum.k==='tp'"}],"mark":{"type":"text","font":"Liberation Serif","fontSize":16,"align":"left","baseline":"alphabetic","dy":-10},"encoding":{"text":{"field":"x"}}},
{"transform":[{"filter":"datum.k==='tu'"}],"mark":{"type":"text","font":"Liberation Serif","fontSize":23.5,"align":"left","baseline":"alphabetic"},"encoding":{"text":{"field":"x"}}},
{"transform":[{"filter":"datum.k==='tf'"}],"mark":{"type":"text","font":"Liberation Serif","fontSize":23.5,"align":"center","baseline":"alphabetic"},"encoding":{"text":{"field":"x"}}},
{"transform":[{"filter":"datum.k==='tt'"}],"mark":{"type":"text","font":"Liberation Serif","fontSize":23.5,"align":"center","baseline":"alphabetic"},"encoding":{"text":{"field":"x"}}},
{"transform":[{"filter":"datum.k==='cap'"}],"mark":{"type":"text","font":"Liberation Serif","fontSize":21,"align":"center","baseline":"middle"},"encoding":{"text":{"field":"x"}}},
{"transform":[{"filter":"datum.k==='tiny'"}],"mark":{"type":"text","font":"DejaVu Sans","fontSize":5,"fontWeight":"bold","align":"left","baseline":"middle"},"encoding":{"text":{"field":"x"}}},
{"transform":[{"filter":"datum.k==='tinyr'"}],"mark":{"type":"text","font":"DejaVu Sans","fontSize":5,"fontWeight":"bold","align":"right","baseline":"middle"},"encoding":{"text":{"field":"x"}}},
{"transform":[{"filter":"datum.k==='tinyc'"}],"mark":{"type":"text","font":"DejaVu Sans","fontSize":5,"fontWeight":"bold","align":"center","baseline":"middle"},"encoding":{"text":{"field":"x"}}}
]
},
"config":{"view":{"stroke":"#b4b4b4","strokeWidth":1}}
}
